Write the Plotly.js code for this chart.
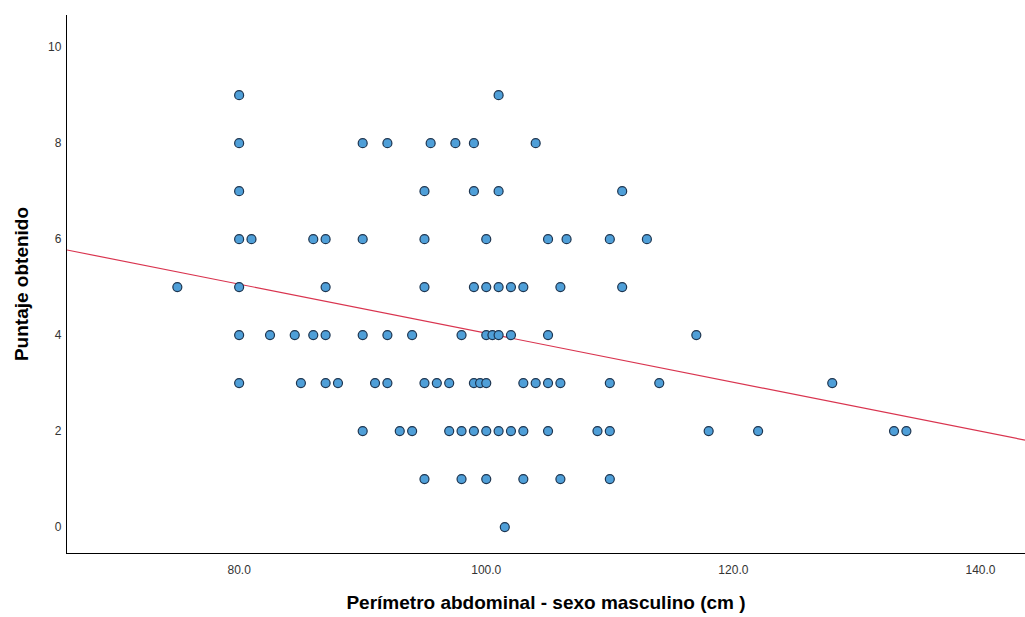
<!DOCTYPE html>
<html>
<head>
<meta charset="utf-8">
<script src="https://cdn.plot.ly/plotly-3.0.1.min.js"></script>
<style>html,body{margin:0;padding:0;background:#fff;}#chart{width:1025px;height:617px;}</style>
</head>
<body>
<div id="chart"></div>
<script>
// Perímetro abdominal (cm) grouped by score (Puntaje obtenido)
const score9 = [80, 101];
const score8 = [80, 90, 92, 95.5, 97.5, 99, 104];
const score7 = [80, 95, 99, 101, 111];
const score6 = [80, 81, 86, 87, 90, 95, 100, 105, 106.5, 110, 113];
const score5 = [75, 80, 87, 95, 99, 100, 101, 102, 103, 106, 111];
const score4 = [80, 82.5, 84.5, 86, 87, 90, 92, 94, 98, 100, 100.5, 101, 102, 105, 117];
const score3 = [80, 85, 87, 88, 91, 92, 95, 96, 97, 99, 99.5, 100, 103, 104, 105, 106, 110, 114, 128];
const score2 = [90, 93, 94, 97, 98, 99, 100, 101, 102, 103, 105, 109, 110, 118, 122, 133, 134];
const score1 = [95, 98, 100, 103, 106, 110];
const score0 = [101.5];

// linear fit line (Puntaje = intercept + slope * perímetro)
const fitIntercept = 9.15;
const fitSlope = -0.0511;

const groups = [[0, score0],[1, score1],[2, score2],[3, score3],[4, score4],[5, score5],[6, score6],[7, score7],[8, score8],[9, score9]];
const xs = [], ys = [];
groups.forEach(([s, arr]) => arr.forEach(v => { xs.push(v); ys.push(s); }));

const xRange = [66.07, 143.6];
const yRange = [-0.54, 10.67];

const fitX = xRange.slice();
const fitY = fitX.map(x => fitIntercept + fitSlope*x);

const data = [
  {x: fitX, y: fitY, type:'scatter', mode:'lines', line:{color:'#d9344f', width:1.2}, hoverinfo:'skip', showlegend:false},
  {x: xs, y: ys, type:'scatter', mode:'markers',
   marker:{symbol:'circle', size:9, color:'#4f9fd8', line:{color:'#1d3550', width:1.2}}, showlegend:false}
];

const layout = {
  width:1025, height:617,
  margin:{l:67, r:0, t:15, b:64},
  paper_bgcolor:'#fff', plot_bgcolor:'#fff',
  font:{family:'Liberation Sans, Arial, sans-serif', color:'#222'},
  showlegend:false,
  xaxis:{range:xRange, showgrid:false, zeroline:false, showline:true, linecolor:'#000', linewidth:1.2,
    ticks:'', tick0:0, dtick:20, tickformat:'.1f', tickfont:{size:12, color:'#333'}, ticklabelstandoff:5,
    title:{text:'Perímetro abdominal - sexo masculino (cm )', font:{size:19, color:'#000', weight:'bold'}, standoff:20}},
  yaxis:{range:yRange, showgrid:false, zeroline:false, showline:true, linecolor:'#000', linewidth:1.2,
    ticks:'', tick0:0, dtick:2, tickfont:{size:12, color:'#333'}, ticklabelstandoff:2,
    title:{text:'Puntaje obtenido', font:{size:19, color:'#000', weight:'bold'}, standoff:14}}
};

Plotly.newPlot('chart', data, layout, {displayModeBar:false, staticPlot:true});
</script>
</body>
</html>
